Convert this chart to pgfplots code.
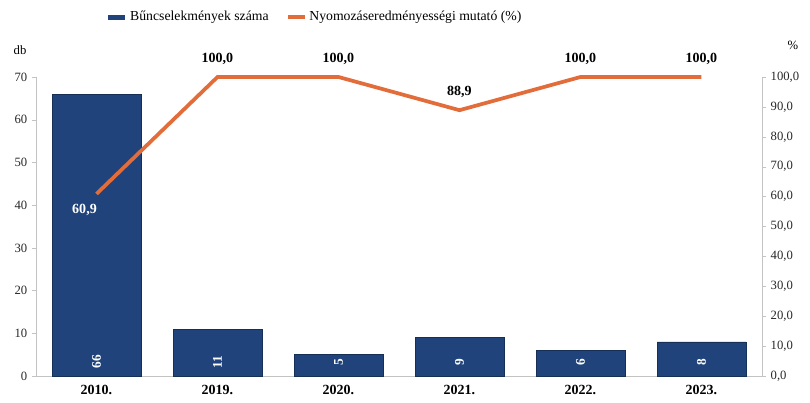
\documentclass[border=0pt]{standalone}
\usepackage{fontspec}
\setmainfont{Liberation Serif}
\usepackage{pgfplots}
\pgfplotsset{compat=1.18}
\definecolor{barblue}{RGB}{31,67,122}
\definecolor{lineor}{RGB}{226,108,58}
\definecolor{axgray}{RGB}{195,195,195}
\begin{document}
\begin{tikzpicture}
\pgfplotsset{
  common/.style={
    scale only axis, width=544.5pt, height=224.25pt,
    xmin=-0.5, xmax=5.5, ymin=0, clip=false,
    /pgf/number format/assume math mode=true,
    tick label style={font=\fontsize{9.5}{11}\selectfont, color=black!85},
    axis line style={axgray},
    major tick length=3pt,
    tick style={axgray},
    tick align=outside,
  }
}
\begin{axis}[common,
  ymax=70, ytick={0,10,...,70},
  axis y line*=left, axis x line*=bottom,
  xtick={0,...,5}, xticklabels={2010.,2019.,2020.,2021.,2022.,2023.},
  x tick label style={font=\fontsize{10.5}{12}\selectfont\bfseries, color=black},
  x tick style={draw=none},
]
\addplot[ybar, bar width=0.735, fill=barblue, draw=barblue!70!black, forget plot]
  coordinates {(0,66) (1,11) (2,5) (3,9) (4,6) (5,8)};
\addplot[draw=none, mark=none, forget plot, nodes near coords, point meta=explicit symbolic,
  every node near coord/.style={anchor=center, rotate=90, text=white, font=\fontsize{10}{12}\selectfont\bfseries}]
  coordinates {(0,3.3)[66] (1,3.3)[11] (2,3.3)[5] (3,3.3)[9] (4,3.3)[6] (5,3.3)[8]};
\node[font=\fontsize{9.5}{11}\selectfont] at (rel axis cs:-0.022,1.09) {db};
\end{axis}
\begin{axis}[common,
  ymax=100, ytick={0,10,...,100},
  axis y line*=right, hide x axis,
  y tick label style={/pgf/number format/.cd, fixed, fixed zerofill, precision=1, use comma, 1000 sep={}},
  legend style={at={(0.384,1.2)}, anchor=center, draw=none, fill=none,
    font=\fontsize{10.3}{12}\selectfont, legend columns=2,
    /tikz/every even column/.append style={column sep=11pt}},
  legend image code/.code={\draw[#1] (0pt,0pt) -- (12.75pt,0pt);},
]
\addlegendimage{barblue, line width=3.8pt}
\addlegendentry{Bűncselekmények száma}
\addplot[lineor, line width=2.8pt, mark=none]
  coordinates {(0,60.9) (1,100) (2,100) (3,88.9) (4,100) (5,100)};
\addlegendentry{Nyomozáseredményességi mutató (\%)}
\addplot[draw=none, mark=none, forget plot, nodes near coords, point meta=explicit symbolic,
  every node near coord/.style={anchor=center, yshift=13.5pt, text=black, font=\fontsize{10.5}{12}\selectfont\bfseries}]
  coordinates {(1,100)[100,0] (2,100)[100,0] (3,88.9)[88,9] (4,100)[100,0] (5,100)[100,0]};
\addplot[draw=none, mark=none, forget plot, nodes near coords, point meta=explicit symbolic,
  every node near coord/.style={anchor=center, xshift=-9pt, yshift=-12pt, text=white, font=\fontsize{10.5}{12}\selectfont\bfseries}]
  coordinates {(0,60.9)[60,9]};
\node[font=\fontsize{9.5}{11}\selectfont] at (rel axis cs:1.0427,1.107) {\%};
\end{axis}
\pgfresetboundingbox
\path (-27pt,-20.25pt) rectangle (580.5pt,282pt);
\end{tikzpicture}
\end{document}
